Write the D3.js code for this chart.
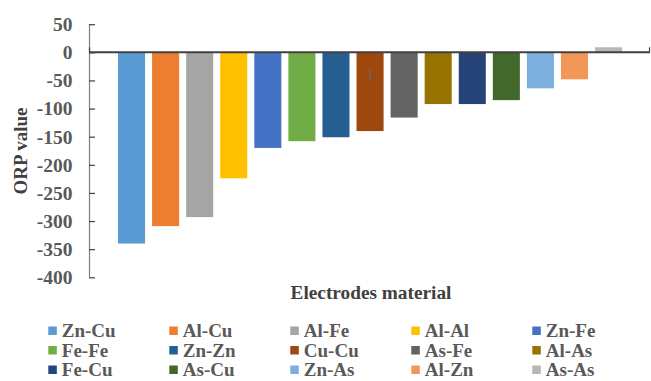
<!DOCTYPE html>
<html>
<head>
<meta charset="utf-8">
<script src="https://cdn.jsdelivr.net/npm/d3@7"></script>
<style>
  html, body { margin: 0; padding: 0; background: #fff; }
  svg { display: block; }
</style>
</head>
<body>
<svg id="chart" width="651" height="381"></svg>
<script>
const categories = ["Zn-Cu","Al-Cu","Al-Fe","Al-Al","Zn-Fe","Fe-Fe","Zn-Zn","Cu-Cu","As-Fe","Al-As","Fe-Cu","As-Cu","Zn-As","Al-Zn","As-As"];
const orpValues = [-340, -309, -293, -224, -170, -158, -151, -140, -116, -92, -92, -85, -64, -48, 9];
const barColors = ["#5B9BD5","#ED7D31","#A5A5A5","#FFC000","#4472C4","#70AD47","#255E91","#9E480E","#636363","#997300","#264478","#43682B","#7CAFDD","#F1975A","#B7B7B7"];
const yTicks = [50, 0, -50, -100, -150, -200, -250, -300, -350, -400];
const barNote = { category: "Cu-Cu", text: "1", value: -38 };

const svg = d3.select("#chart");
const serif = "'Liberation Serif', 'Times New Roman', serif";
const labelColor = "#595959";

const y = d3.scaleLinear().domain([-400, 50]).range([277.3, 24.2]);
const x = d3.scaleBand().domain(categories).range([114.5, 625.6]).paddingInner(0.206).paddingOuter(0.103);
const axisLeft = 89, axisRight = 650;

// bars
svg.append("g").selectAll("rect").data(categories).join("rect")
  .attr("x", d => x(d))
  .attr("width", x.bandwidth())
  .attr("y", (d, i) => y(Math.max(0, orpValues[i])))
  .attr("height", (d, i) => Math.abs(y(orpValues[i]) - y(0)))
  .attr("fill", (d, i) => barColors[i]);

// y axis
const yAxis = d3.axisRight(y).tickValues(yTicks).tickSize(6).tickFormat("");
const gy = svg.append("g").attr("transform", `translate(${axisLeft},0)`).call(yAxis);
gy.select(".domain").attr("stroke", "#7f7f7f").attr("stroke-width", 1.2)
  .attr("d", `M0.5,${y(50)}V${y(-400)}`);
gy.selectAll(".tick line").attr("stroke", "#404040").attr("stroke-width", 1.2);

svg.append("g").selectAll("text").data(yTicks).join("text")
  .attr("x", 72.5).attr("y", d => y(d)).attr("dy", "0.35em")
  .attr("text-anchor", "end")
  .attr("font-family", serif).attr("font-weight", "bold").attr("font-size", 19.5)
  .attr("fill", labelColor)
  .text(d => d);

// zero line (category axis)
svg.append("line")
  .attr("x1", axisLeft).attr("x2", axisRight)
  .attr("y1", y(0)).attr("y2", y(0))
  .attr("stroke", "#404040").attr("stroke-width", 2);
[axisLeft + 0.5, axisRight - 0.5].forEach(px => {
  svg.append("line").attr("x1", px).attr("x2", px)
    .attr("y1", y(0)).attr("y2", y(0) - 5)
    .attr("stroke", "#404040").attr("stroke-width", 1.2);
});

// small note label on Cu-Cu bar
svg.append("text")
  .attr("x", x(barNote.category) + x.bandwidth() / 2)
  .attr("y", y(barNote.value)).attr("dy", "0.35em")
  .attr("text-anchor", "middle")
  .attr("font-family", "'Liberation Sans', Arial, sans-serif").attr("font-size", 14)
  .attr("fill", "#6b6b6b").attr("opacity", 0.8)
  .text(barNote.text);

// axis titles
svg.append("text")
  .attr("x", 371).attr("y", 298.5)
  .attr("text-anchor", "middle")
  .attr("font-family", serif).attr("font-weight", "bold").attr("font-size", 19.3)
  .attr("fill", "#404040")
  .text("Electrodes material");

svg.append("text")
  .attr("transform", "translate(27,151) rotate(-90)")
  .attr("text-anchor", "middle")
  .attr("font-family", serif).attr("font-weight", "bold").attr("font-size", 19)
  .attr("fill", "#404040")
  .text("ORP value");

// legend
const legX0 = 48.3, legColStep = 121, legY0 = 331, legRowStep = 19.5;
const leg = svg.append("g").selectAll("g").data(categories).join("g")
  .attr("transform", (d, i) => `translate(${legX0 + (i % 5) * legColStep},${legY0 + Math.floor(i / 5) * legRowStep})`);
leg.append("rect").attr("x", 0).attr("y", -4.5).attr("width", 8.5).attr("height", 8.5)
  .attr("fill", (d, i) => barColors[i]);
leg.append("text").attr("x", 13.5).attr("y", 0).attr("dy", "0.33em")
  .attr("font-family", serif).attr("font-weight", "bold").attr("font-size", 19)
  .attr("fill", labelColor)
  .text(d => d);
</script>
</body>
</html>
